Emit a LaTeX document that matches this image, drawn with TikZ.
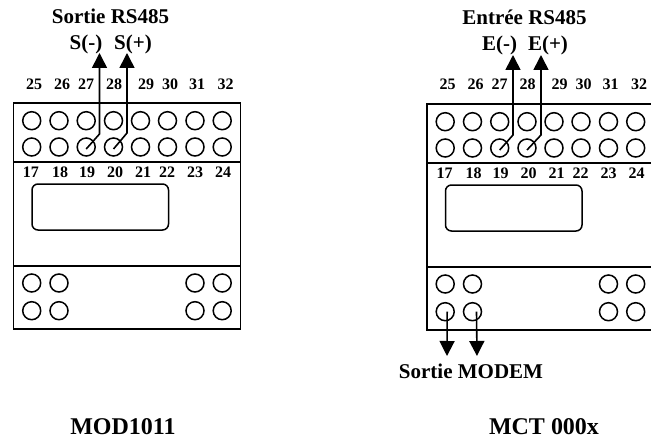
\documentclass[tikz,border=0pt]{standalone}
\usepackage{fontspec}
\setmainfont{Liberation Serif}
\usetikzlibrary{arrows.meta}
\tikzset{
  x=1pt,y=-1pt,
  term/.style={circle,draw,line width=1.5pt,minimum size=18pt,inner sep=0pt},
  box/.style={line width=1.5pt},
  wire/.style={line width=1.6pt,-{Triangle[length=15pt,width=15pt]}},
  title/.style={anchor=base,font=\fontsize{21}{21}\bfseries\selectfont,inner sep=0pt},
  bigname/.style={anchor=base,font=\fontsize{24}{24}\bfseries\selectfont,inner sep=0pt},
  num/.style={anchor=base,font=\fontsize{16}{16}\bfseries\selectfont,inner sep=0pt}
}
\newcommand{\mydevice}[3]{%
  \begin{scope}[shift={(#2,#3)}]
    \draw[box] (0,103) rectangle (227,329);
    \draw[box] (0,162) -- (227,162) (0,266) -- (227,266);
    \draw[box,rounded corners=6pt] (18.5,184) rectangle (155,230);
    \foreach \n/\cx in {1/18.2,2/45.5,3/72.7,4/100,5/127,6/154,7/181.5,8/208.7}{
      \node[term] (#1t\n) at (\cx,120.7) {};
      \node[term] (#1b\n) at (\cx,147) {};
    }
    \foreach \n/\cx in {1/18.2,2/45.5,7/181.5,8/208.7}{
      \node[term] (#1c\n) at (\cx,283) {};
      \node[term] (#1d\n) at (\cx,310.7) {};
    }
    \foreach \t/\cx in {25/20.5,26/48.5,27/72.5,28/100.5,29/132.5,30/156.5,31/183.5,32/212}{
      \node[num] (#1n\t) at (\cx,89) {\t};
    }
    \foreach \t/\cx in {17/17.5,18/46.5,19/73.5,20/101.5,21/129.5,22/153.5,23/181.5,24/209.5}{
      \node[num] (#1n\t) at (\cx,177) {\t};
    }
  \end{scope}
}
\begin{document}
\begin{tikzpicture}
\clip (0,0) rectangle (651,436);
\mydevice{L}{13.5}{0}
\mydevice{R}{427}{1}
% left labels
\node[title] (ltitle) at (110.5,24) {Sortie RS485};
\node[title] (lminus) at (86,49.5) {S(-)};
\node[title] (lplus) at (133,49.5) {S(+)};
\node[bigname] (lname) at (123,434) {MOD1011};
% right labels
\node[title] (rtitle) at (524.5,25) {Entrée RS485};
\node[title] (rminus) at (499.5,50.5) {E(-)};
\node[title] (rplus) at (548,50.5) {E(+)};
\node[title] (rout) at (471,378) {Sortie MODEM};
\node[bigname] (rname) at (544,434) {MCT 000x};
% tips
\coordinate (ltipa) at (99.5,53);
\coordinate (ltipb) at (127,53);
\coordinate (rtipa) at (513,55);
\coordinate (rtipb) at (541,55);
\coordinate (mtipa) at (447,356);
\coordinate (mtipb) at (477,356);
% wires
\draw[wire] (Lb3.center) ++(0,2) -- (99.5,134) -- (ltipa);
\draw[wire] (Lb4.center) ++(0,2) -- (127,133) -- (ltipb);
\draw[wire] (Rb3.center) ++(0,2) -- (513,135) -- (rtipa);
\draw[wire] (Rb4.center) ++(0,2) -- (541,135) -- (rtipb);
\draw[wire] (Rd1.center) ++(2,0) -- (mtipa);
\draw[wire] (Rd2.center) ++(4,0) -- (mtipb);
\end{tikzpicture}
\end{document}
